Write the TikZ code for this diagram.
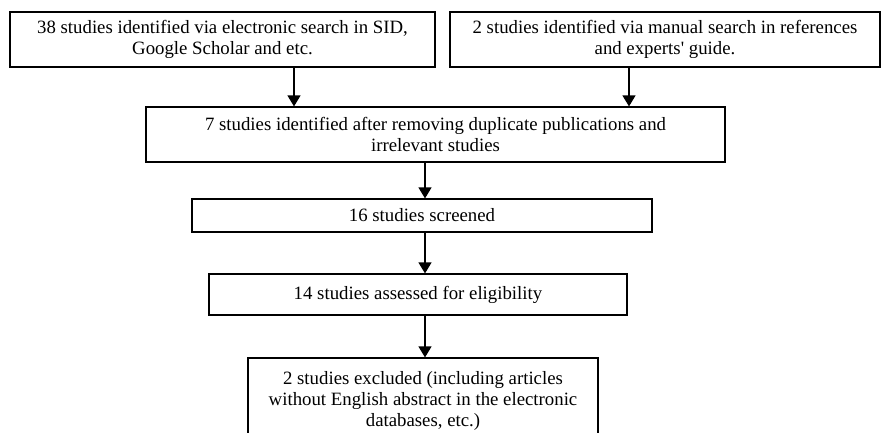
\documentclass[tikz,border=0pt]{standalone}
\usepackage{fontspec}
\setmainfont{Liberation Serif}[Ligatures=TeXOff]
\usetikzlibrary{arrows.meta}
\begin{document}
\begin{tikzpicture}[x=1pt,y=-1pt,
  box/.style={draw=black,line width=1.2pt,rectangle,align=center,inner sep=0pt,
    font=\fontsize{18.8}{21}\selectfont},
  arr/.style={line width=1.2pt,-{Triangle[width=13pt,length=11pt]}}]
\useasboundingbox (0,0) rectangle (881,432);
\node[box,minimum width=425pt,minimum height=55pt] (b1) at (222.5,39.5)
  {38 studies identified via electronic search in SID,\\Google Scholar and etc.};
\node[box,minimum width=430pt,minimum height=55pt] (b2) at (665,39.5)
  {2 studies identified via manual search in references\\and experts' guide.};
\node[box,minimum width=579pt,minimum height=55pt] (b3) at (435.5,134.5)
  {7 studies identified after removing duplicate publications and\\irrelevant studies};
\node[box,minimum width=460pt,minimum height=33pt] (b4) at (422,215.5)
  {16 studies screened};
\node[box,minimum width=418pt,minimum height=41pt] (b5) at (418,294.5)
  {14 studies assessed for eligibility};
\node[box,minimum width=350pt,minimum height=86pt] (b6) at (423,401)
  {2 studies excluded (including articles\\without English abstract in the electronic\\databases, etc.)};
\coordinate (c1) at (294,0);
\coordinate (c2) at (629,0);
\coordinate (c3) at (425,0);
\draw[arr] (b1.south -| c1) -- (b3.north -| c1);
\draw[arr] (b2.south -| c2) -- (b3.north -| c2);
\draw[arr] (b3.south -| c3) -- (b4.north -| c3);
\draw[arr] (b4.south -| c3) -- (b5.north -| c3);
\draw[arr] (b5.south -| c3) -- (b6.north -| c3);
\end{tikzpicture}
\end{document}
